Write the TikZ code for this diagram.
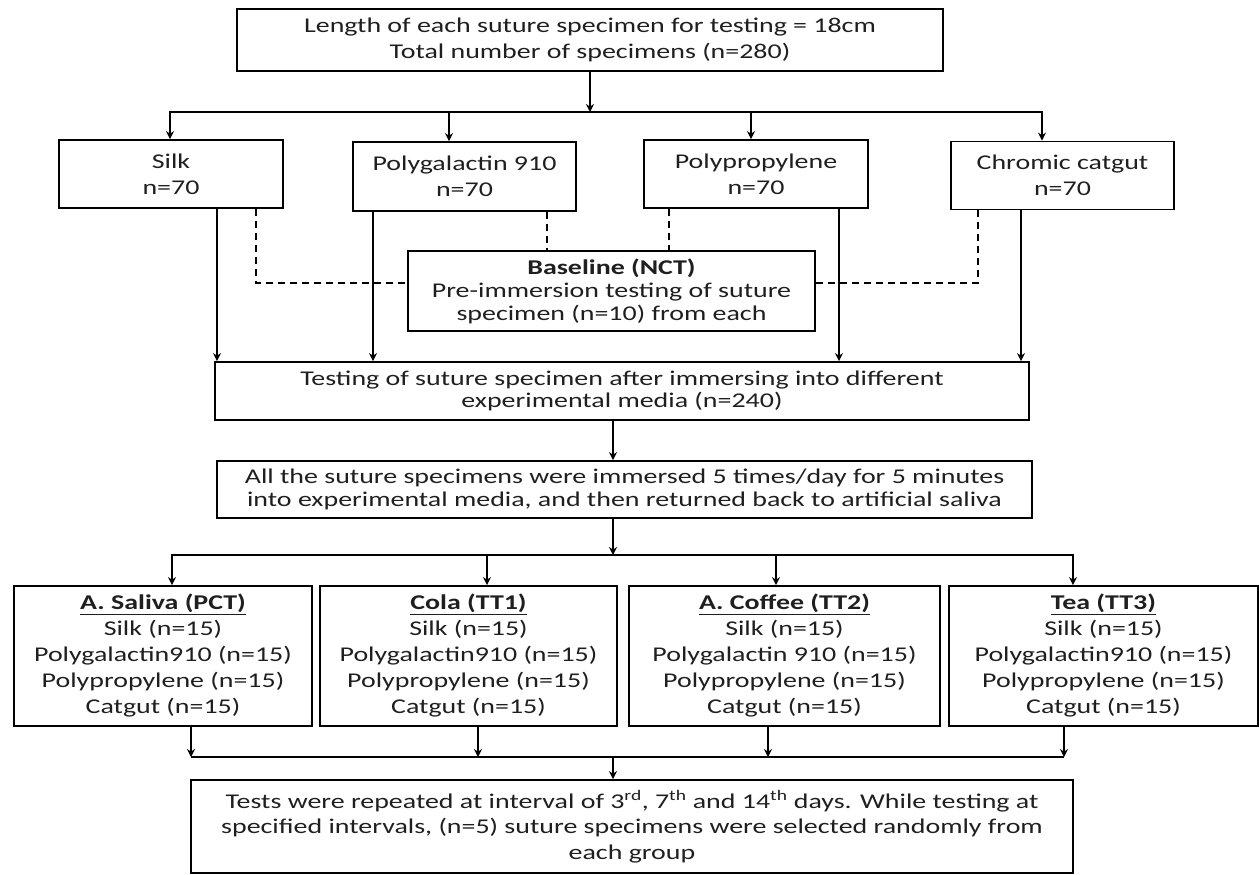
\documentclass[tikz,border=0pt]{standalone}
\usepackage{fontspec}
\setmainfont{Carlito}[FakeStretch=1.33]
\usetikzlibrary{arrows.meta}
\begin{document}
\begin{tikzpicture}[x=1pt,y=-1pt,
  box/.style={draw, line width=1.8pt, inner sep=0pt, align=center, text=black!88,
              font=\fontsize{21}{26}\selectfont},
  arr/.style={line width=1.6pt, -{Stealth[length=8pt,width=8pt]}},
  ln/.style={line width=1.6pt},
  dashline/.style={line width=1.6pt, dash pattern=on 7pt off 5pt}]
\useasboundingbox (0,0) rectangle (1259,875);

% nodes
\node[box, minimum width=706pt, minimum height=62pt] (top) at (590,40)
  {Length of each suture specimen for testing = 18cm\\Total number of specimens (n=280)};

\node[box, minimum width=224pt, minimum height=68pt] (silk) at (171,174) {Silk\\n=70};
\node[box, minimum width=223pt, minimum height=69pt] (polyg) at (464.5,176.5) {Polygalactin 910\\n=70};
\node[box, minimum width=224pt, minimum height=68pt] (polyp) at (756,174) {Polypropylene\\n=70};
\node[box, minimum width=223pt, minimum height=68pt] (chrom) at (1062.5,175.5) {Chromic catgut\\n=70};

\node[box, minimum width=407pt, minimum height=80pt, font=\fontsize{21}{23}\selectfont] (base) at (611.5,291)
  {\textbf{Baseline (NCT)}\\Pre-immersion testing of suture\\specimen (n=10) from each};

\node[box, minimum width=814pt, minimum height=58pt, font=\fontsize{21}{22.5}\selectfont] (test) at (622,391)
  {Testing of suture specimen after immersing into different\\experimental media (n=240)};

\node[box, minimum width=815pt, minimum height=57pt, font=\fontsize{21}{22.5}\selectfont] (imm) at (624.5,489.5)
  {All the suture specimens were immersed 5 times/day for 5 minutes\\into experimental media, and then returned back to artificial saliva};

\node[box, minimum width=298pt, minimum height=140pt] (sal) at (163,656)
  {\underline{\textbf{A. Saliva (PCT)}}\\Silk (n=15)\\Polygalactin910 (n=15)\\Polypropylene (n=15)\\Catgut (n=15)};
\node[box, minimum width=297pt, minimum height=140pt] (cola) at (468.5,656)
  {\underline{\textbf{Cola (TT1)}}\\Silk (n=15)\\Polygalactin910 (n=15)\\Polypropylene (n=15)\\Catgut (n=15)};
\node[box, minimum width=311pt, minimum height=140pt] (cof) at (784.5,656)
  {\underline{\textbf{A. Coffee (TT2)}}\\Silk (n=15)\\Polygalactin 910 (n=15)\\Polypropylene (n=15)\\Catgut (n=15)};
\node[box, minimum width=309pt, minimum height=140pt] (tea) at (1103.5,656)
  {\underline{\textbf{Tea (TT3)}}\\Silk (n=15)\\Polygalactin910 (n=15)\\Polypropylene (n=15)\\Catgut (n=15)};

\node[box, minimum width=882pt, minimum height=93pt, font=\fontsize{21}{25.5}\selectfont] (bot) at (632,826.5)
  {Tests were repeated at interval of 3\textsuperscript{rd}, 7\textsuperscript{th} and 14\textsuperscript{th} days. While testing at\\specified intervals, (n=5) suture specimens were selected randomly from\\each group};

% top split
\coordinate (j1) at (590,112);
\coordinate (d1) at (170,112);
\coordinate (d2) at (449,112);
\coordinate (d3) at (751,112);
\coordinate (d4) at (1042,112);
\draw[arr] (top.south -| j1) -- (j1);
\draw[arr] (j1) -| (silk.north -| d1);
\draw[arr] (j1) -| (chrom.north -| d4);
\draw[arr] (d2) -- (polyg.north -| d2);
\draw[arr] (d3) -- (polyp.north -| d3);

% dashed to baseline
\coordinate (e1) at (256,283);
\coordinate (e2) at (547,230);
\coordinate (e3) at (669,230);
\coordinate (e4) at (978,283);
\draw[dashline] (silk.south -| e1) |- (base.west |- e1);
\draw[dashline] (chrom.south -| e4) |- (base.east |- e4);
\draw[dashline] (polyg.south -| e2) -- (base.north -| e2);
\draw[dashline] (polyp.south -| e3) -- (base.north -| e3);

% solid to testing
\coordinate (s1) at (217,300);
\coordinate (s2) at (373,300);
\coordinate (s3) at (839,300);
\coordinate (s4) at (1021,300);
\draw[arr] (silk.south -| s1) -- (test.north -| s1);
\draw[arr] (polyg.south -| s2) -- (test.north -| s2);
\draw[arr] (polyp.south -| s3) -- (test.north -| s3);
\draw[arr] (chrom.south -| s4) -- (test.north -| s4);

% middle
\coordinate (m1) at (613,440);
\draw[arr] (test.south -| m1) -- (imm.north -| m1);
\coordinate (j2) at (613,555);
\coordinate (f1) at (172,555);
\coordinate (f2) at (487,555);
\coordinate (f3) at (776,555);
\coordinate (f4) at (1073,555);
\draw[arr] (imm.south -| j2) -- (j2);
\draw[arr] (j2) -| (sal.north -| f1);
\draw[arr] (j2) -| (tea.north -| f4);
\draw[arr] (f2) -- (cola.north -| f2);
\draw[arr] (f3) -- (cof.north -| f3);

% bottom merge
\coordinate (g1) at (191,757);
\coordinate (g2) at (478,757);
\coordinate (g3) at (768,757);
\coordinate (g4) at (1064,757);
\coordinate (j3) at (613,757);
\draw[ln] (g1) -- (g4);
\draw[arr] (sal.south -| g1) -- (g1);
\draw[arr] (cola.south -| g2) -- (g2);
\draw[arr] (cof.south -| g3) -- (g3);
\draw[arr] (tea.south -| g4) -- (g4);
\draw[arr] (j3) -- (bot.north -| j3);
\end{tikzpicture}
\end{document}
